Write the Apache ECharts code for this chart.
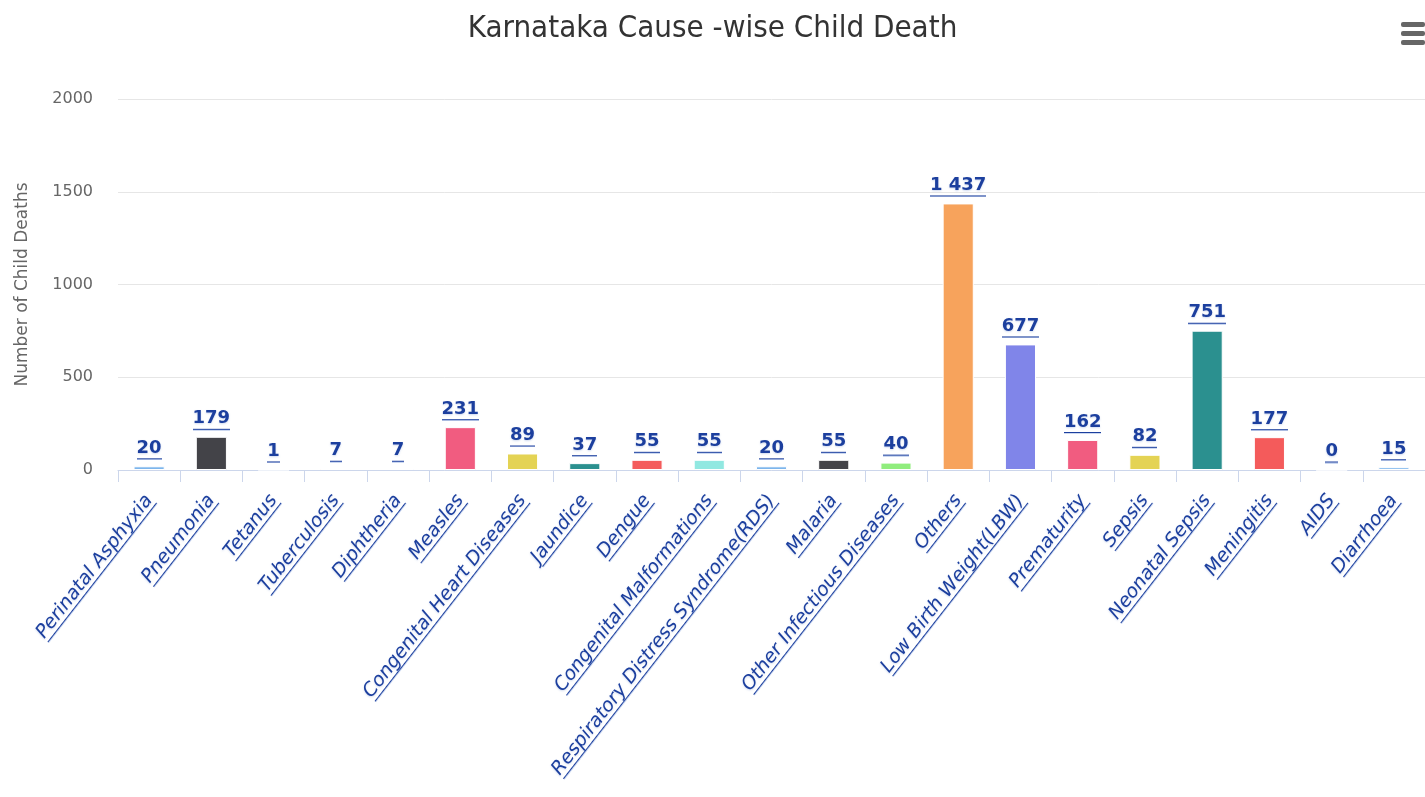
<!DOCTYPE html>
<html>
<head>
<meta charset="utf-8">
<title>Karnataka Cause-wise Child Death</title>
<script src="https://cdn.jsdelivr.net/npm/echarts@6/dist/echarts.min.js"></script>
<style>
  html, body { margin: 0; padding: 0; background: #fff; }
  #chart { width: 1425px; height: 797px; }
</style>
</head>
<body>
<div id="chart"></div>
<script>
// categories and values
const causes = [
  'Perinatal Asphyxia', 'Pneumonia', 'Tetanus', 'Tuberculosis', 'Diphtheria',
  'Measles', 'Congenital Heart Diseases', 'Jaundice', 'Dengue',
  'Congenital Malformations', 'Respiratory Distress Syndrome(RDS)', 'Malaria',
  'Other Infectious Diseases', 'Others', 'Low Birth Weight(LBW)', 'Prematurity',
  'Sepsis', 'Neonatal Sepsis', 'Meningitis', 'AIDS', 'Diarrhoea'
]
const deaths = [20, 179, 1, 7, 7, 231, 89, 37, 55, 55, 20, 55, 40, 1437, 677, 162, 82, 751, 177, 0, 15]
const yTicks = [0, 500, 1000, 1500, 2000]

// highcharts-like palette, one colour per point
const palette = ['#7cb5ec', '#434348', '#90ed7d', '#f7a35c', '#8085e9', '#f15c80', '#e4d354', '#2b908f', '#f45b5b', '#91e8e1']

const labelBlue = '#1c3f9e'
const fontMain = '"DejaVu Sans", sans-serif'

// small canvas used as a stretched background -> underline under a label
function underline (h) {
  const c = document.createElement('canvas')
  c.width = 2
  c.height = h
  const ctx = c.getContext('2d')
  ctx.fillStyle = labelBlue
  ctx.fillRect(0, h - 2, 2, 1)
  ctx.fillStyle = 'rgba(170,190,230,0.6)'
  ctx.fillRect(0, h - 1, 2, 1)
  return c
}

function fmt (v) {
  // thousands separated by a space
  return String(v).replace(/\B(?=(\d{3})+(?!\d))/g, ' ')
}

const chart = echarts.init(document.getElementById('chart'))

const option = {
  animation: false,
  backgroundColor: '#fff',
  title: {
    text: 'Karnataka Cause -wise Child Death',
    left: 'center',
    top: 8,
    textStyle: {
      fontFamily: '"Liberation Sans Narrow", "DejaVu Sans Condensed", "Roboto", sans-serif',
      fontSize: 31,
      fontWeight: 'normal',
      color: '#333'
    }
  },
  graphic: [
    {
      type: 'group',
      right: 0,
      top: 22,
      children: [
        { type: 'rect', shape: { x: 0, y: 0, width: 24, height: 5, r: 2 }, style: { fill: '#666' } },
        { type: 'rect', shape: { x: 0, y: 9, width: 24, height: 5, r: 2 }, style: { fill: '#666' } },
        { type: 'rect', shape: { x: 0, y: 18, width: 24, height: 5, r: 2 }, style: { fill: '#666' } }
      ]
    }
  ],
  grid: {
    left: 118,
    right: -9,
    top: 99,
    bottom: 327,
    containLabel: false
  },
  xAxis: {
    type: 'category',
    data: causes,
    axisLine: { lineStyle: { color: '#ccd6eb', width: 1 } },
    axisTick: { show: true, length: 12, lineStyle: { color: '#ccd6eb' } },
    axisLabel: {
      interval: 0,
      rotate: 52,
      margin: 27,
      fontFamily: fontMain,
      fontSize: 19,
      fontStyle: 'italic',
      color: labelBlue,
      lineHeight: 22,
      backgroundColor: { image: underline(22) },
      textShadowColor: 'rgba(120,150,210,0.35)',
      textShadowBlur: 2,
      textShadowOffsetY: 1
    }
  },
  yAxis: {
    type: 'value',
    min: 0,
    max: 2000,
    interval: 500,
    name: 'Number of Child Deaths',
    nameLocation: 'middle',
    nameGap: 87,
    nameTextStyle: {
      fontFamily: fontMain,
      fontSize: 17,
      color: '#666'
    },
    axisLine: { show: false },
    axisTick: { show: false },
    axisLabel: {
      margin: 25,
      fontFamily: fontMain,
      fontSize: 16,
      color: '#666',
      formatter: function (v) { return yTicks.indexOf(v) >= 0 ? String(v) : '' }
    },
    splitLine: { lineStyle: { color: '#e6e6e6', width: 1 } }
  },
  series: [
    {
      type: 'bar',
      barWidth: '50%',
      data: deaths.map(function (v, i) {
        return { value: v, itemStyle: { color: palette[i % palette.length] } }
      }),
      itemStyle: { borderColor: '#fff', borderWidth: 1 },
      label: {
        show: true,
        position: 'top',
        distance: 6,
        formatter: function (p) { return fmt(p.value) },
        fontFamily: fontMain,
        fontSize: 18,
        fontWeight: 'bold',
        color: labelBlue,
        lineHeight: 24,
        backgroundColor: { image: underline(24) },
        textShadowColor: 'rgba(120,150,210,0.35)',
        textShadowBlur: 2,
        textShadowOffsetY: 1
      }
    }
  ]
}

chart.setOption(option)
window.addEventListener('resize', () => {
  chart.resize()
})
</script>
</body>
</html>
